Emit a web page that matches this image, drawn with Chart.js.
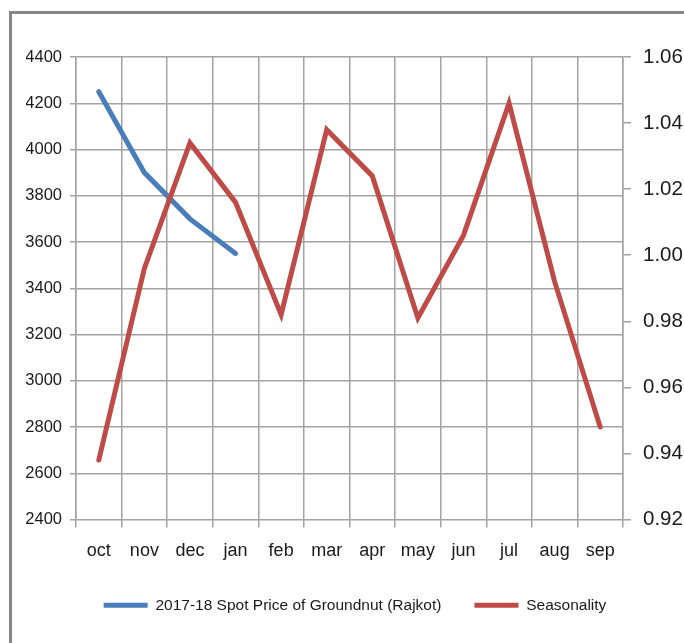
<!DOCTYPE html>
<html>
<head>
<meta charset="utf-8">
<script src="https://cdn.jsdelivr.net/npm/chart.js@4"></script>
<style>
  html, body { margin:0; padding:0; background:#fff; }
  #wrap { position:relative; width:684px; height:643px; overflow:hidden; }
  #frame { position:absolute; left:9px; top:11px; width:700px; height:660px; border:3px solid #858585; box-sizing:border-box; }
  canvas { position:absolute; left:0; top:0; }
</style>
</head>
<body>
<div id="wrap">
  <div id="frame"></div>
  <canvas id="c" width="684" height="643"></canvas>
</div>
<script>
const months = ['oct','nov','dec','jan','feb','mar','apr','may','jun','jul','aug','sep'];
const spotPrice = [4250, 3900, 3700, 3550, null, null, null, null, null, null, null, null];
const seasonality = [0.938, 0.996, 1.034, 1.016, 0.982, 1.038, 1.024, 0.981, 1.006, 1.046, 0.992, 0.948];
const spotLabel = '2017-18 Spot Price of Groundnut (Rajkot)';
const seasonLabel = 'Seasonality';

const fontFam = "'Liberation Sans', Arial, sans-serif";
const gridCol = '#a3a3a3';
const txt = '#1a1a1a';

new Chart(document.getElementById('c'), {
  type:'line',
  data:{
    labels:months,
    datasets:[
      {label:spotLabel,data:spotPrice,yAxisID:'y',borderColor:'#4a7ebb',backgroundColor:'#4a7ebb',borderWidth:5,pointRadius:0,tension:0,order:2,borderCapStyle:'round'},
      {label:seasonLabel,data:seasonality,yAxisID:'y1',borderColor:'#be4b48',backgroundColor:'#be4b48',borderWidth:5,pointRadius:0,tension:0,order:1,borderCapStyle:'round'}
    ]
  },
  options:{
    responsive:false,
    animation:false,
    layout:{padding:{left:26,right:0,top:57,bottom:20}},
    plugins:{
      tooltip:{enabled:false},
      legend:{
        position:'bottom',
        labels:{
          sort:(a,b)=>a.datasetIndex-b.datasetIndex,
          usePointStyle:true,pointStyle:'line',pointStyleWidth:44,
          color:txt,font:{family:fontFam,size:15.5},padding:33
        }
      }
    },
    scales:{
      x:{
        offset:true,
        grid:{offset:true,color:gridCol,lineWidth:1.5,tickLength:8},
        border:{display:false},
        ticks:{color:txt,font:{family:fontFam,size:18},padding:13,maxRotation:0},
        afterFit:s=>{s.height=45;}
      },
      y:{
        position:'left',min:2400,max:4400,
        ticks:{stepSize:200,color:txt,font:{family:fontFam,size:16.5},padding:8,callback:v=>String(v)},
        grid:{color:gridCol,lineWidth:1.5,tickLength:6},
        border:{color:gridCol,width:1.5},
        afterFit:s=>{s.width=50;}
      },
      y1:{
        position:'right',min:0.92,max:1.06,
        ticks:{stepSize:0.02,color:txt,font:{family:fontFam,size:20.5},padding:12,callback:v=>v.toFixed(2)},
        grid:{drawOnChartArea:false,color:gridCol,lineWidth:1.5,tickLength:8},
        border:{color:gridCol,width:1.5},
        afterFit:s=>{s.width=61;}
      }
    }
  }
});
</script>
</body>
</html>
